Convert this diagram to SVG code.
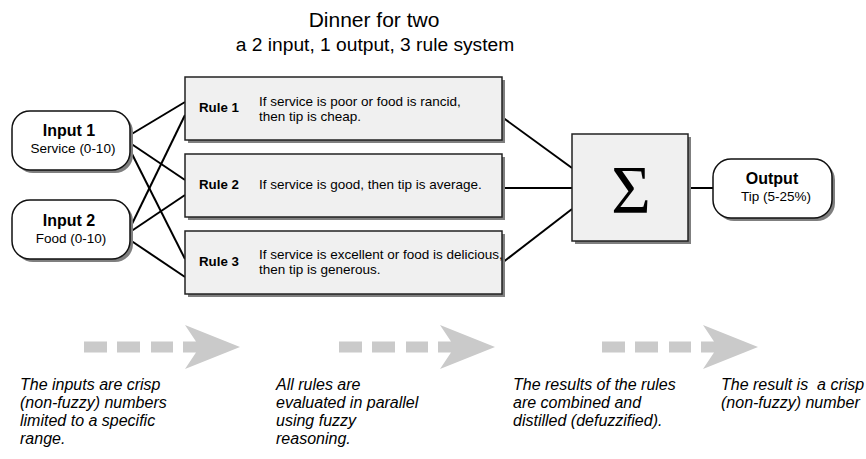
<svg xmlns="http://www.w3.org/2000/svg" width="866" height="459" viewBox="0 0 866 459">
<style>
text{font-family:"Liberation Sans",Arial,sans-serif;fill:#000}
.title{font-size:21px;text-anchor:middle}
.sub{font-size:19.2px;text-anchor:middle}
.io{fill:#fff;stroke:#111;stroke-width:1.5}
.box{fill:#f0f0f0;stroke:#222;stroke-width:1.5}
.shadow{fill:#7f7f7f}
.lbl{font-size:16px;font-weight:bold;text-anchor:middle}
.small{font-size:13.5px;text-anchor:middle}
.rl{font-size:13.3px;font-weight:bold}
.rt{font-size:13.5px}
.note{font-size:16px;font-style:italic;white-space:pre}
.conn line{stroke:#000;stroke-width:2}
.ga{fill:#cacaca}
</style>
<defs>
<g id="garrow">
<rect x="0" y="-5.5" width="23" height="11"/>
<rect x="33" y="-5.5" width="23" height="11"/>
<rect x="67" y="-5.5" width="22" height="11"/>
<polygon points="99,-5.5 112,-5.5 101,-22 156,0 101,22 112,5.5 99,5.5"/>
</g>
</defs>
<text class="title" x="374" y="27">Dinner for two</text>
<text class="sub" x="375" y="51">a 2 input, 1 output, 3 rule system</text>

<g id="connectors" class="conn">
<line x1="130" y1="135" x2="185" y2="102"/>
<line x1="130" y1="143" x2="185" y2="180"/>
<line x1="130" y1="150" x2="185" y2="259"/>
<line x1="130" y1="228" x2="185" y2="115"/>
<line x1="130" y1="232" x2="185" y2="195"/>
<line x1="130" y1="240" x2="185" y2="277"/>
<line x1="502" y1="117" x2="572" y2="168"/>
<line x1="502" y1="188" x2="572" y2="188"/>
<line x1="502" y1="263" x2="572" y2="209"/>
<line x1="688" y1="188" x2="713" y2="188"/>
</g>

<g id="input1">
<rect class="shadow" x="15" y="114" width="118" height="59" rx="18"/>
<rect class="io" x="12" y="111" width="118" height="59" rx="18"/>
<text class="lbl" x="69" y="136">Input 1</text>
<text class="small" x="73" y="153">Service (0-10)</text>
</g>
<g id="input2">
<rect class="shadow" x="15" y="203" width="118" height="59" rx="18"/>
<rect class="io" x="12" y="200" width="118" height="59" rx="18"/>
<text class="lbl" x="69" y="226">Input 2</text>
<text class="small" x="71" y="243">Food (0-10)</text>
</g>

<g id="rule1">
<rect class="shadow" x="188" y="80" width="317" height="63"/>
<rect class="box" x="185" y="77" width="317" height="63"/>
<text class="rl" x="199" y="112">Rule 1</text>
<text class="rt" x="259" y="106">If service is poor or food is rancid,</text>
<text class="rt" x="259" y="121">then tip is cheap.</text>
</g>
<g id="rule2">
<rect class="shadow" x="188" y="157" width="317" height="63"/>
<rect class="box" x="185" y="154" width="317" height="63"/>
<text class="rl" x="199" y="189">Rule 2</text>
<text class="rt" x="259" y="189">If service is good, then tip is average.</text>
</g>
<g id="rule3">
<rect class="shadow" x="188" y="234" width="317" height="63"/>
<rect class="box" x="185" y="231" width="317" height="63"/>
<text class="rl" x="199" y="266">Rule 3</text>
<text class="rt" x="259" y="259">If service is excellent or food is delicious,</text>
<text class="rt" x="259" y="274">then tip is generous.</text>
</g>

<g id="sum">
<rect class="shadow" x="575" y="137" width="116" height="107"/>
<rect class="box" x="572" y="134" width="116" height="107"/>
<text x="631" y="212" style="font-family:'Liberation Serif','Times New Roman',serif;font-size:68px;text-anchor:middle">Σ</text>
</g>

<g id="output">
<rect class="shadow" x="716" y="162" width="119" height="59" rx="18"/>
<rect class="io" x="713" y="159" width="119" height="59" rx="18"/>
<text class="lbl" x="772" y="184">Output</text>
<text class="small" x="776" y="201">Tip (5-25%)</text>
</g>

<g class="ga">
<use href="#garrow" x="84" y="347"/>
<use href="#garrow" x="339" y="347"/>
<use href="#garrow" x="602" y="347"/>
</g>

<text class="note"><tspan x="20" y="390">The inputs are crisp</tspan><tspan x="20" y="408">(non-fuzzy) numbers</tspan><tspan x="20" y="426">limited to a specific</tspan><tspan x="20" y="444">range.</tspan></text>
<text class="note"><tspan x="276" y="390">All rules are</tspan><tspan x="276" y="408">evaluated in parallel</tspan><tspan x="276" y="426">using fuzzy</tspan><tspan x="276" y="444">reasoning.</tspan></text>
<text class="note"><tspan x="513" y="390">The results of the rules</tspan><tspan x="513" y="408">are combined and</tspan><tspan x="513" y="426">distilled (defuzzified).</tspan></text>
<text class="note"><tspan x="721" y="390">The result is  a crisp</tspan><tspan x="721" y="408">(non-fuzzy) number</tspan></text>
</svg>
